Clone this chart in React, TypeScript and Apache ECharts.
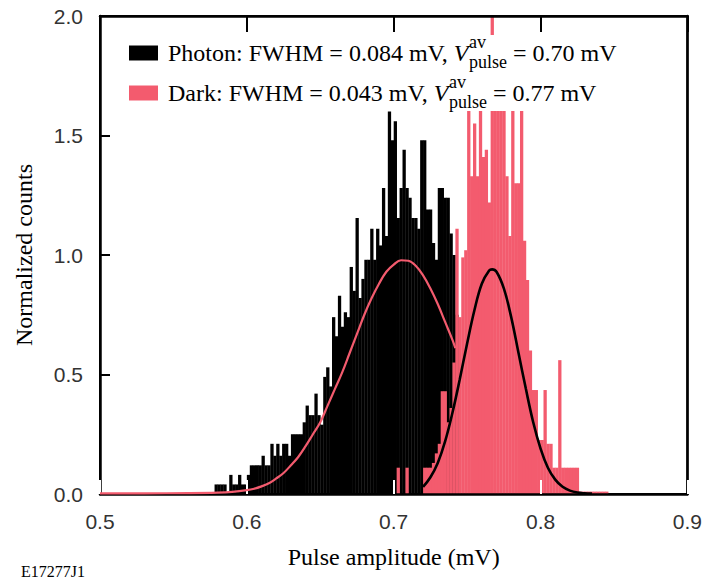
import React, { useEffect, useRef } from "react";
import * as echarts from "echarts";

// ---------- data ----------
const binWidth = 0.002;

const photonBinStart = [
  0.578, 0.58, 0.582, 0.584, 0.586, 0.588, 0.59, 0.592, 0.594, 0.596, 0.598,
  0.6, 0.602, 0.604, 0.606, 0.608, 0.61, 0.612, 0.614, 0.616, 0.618, 0.62,
  0.622, 0.624, 0.626, 0.628, 0.63, 0.632, 0.634, 0.636, 0.638, 0.64, 0.642,
  0.644, 0.646, 0.648, 0.65, 0.652, 0.654, 0.656, 0.658, 0.66, 0.662, 0.664,
  0.666, 0.668, 0.67, 0.672, 0.674, 0.676, 0.678, 0.68, 0.682, 0.684, 0.686,
  0.688, 0.69, 0.692, 0.694, 0.696, 0.698, 0.7, 0.702, 0.704, 0.706, 0.708,
  0.71, 0.712, 0.714, 0.716, 0.718, 0.72, 0.722, 0.724, 0.726, 0.728, 0.73,
  0.732, 0.734, 0.736, 0.738, 0.74, 0.742,
];
const photonCounts = [
  0.04, 0.04, 0.04, 0.04, 0.0, 0.08, 0.04, 0.04, 0.08, 0.04, 0.04,
  0.08, 0.12, 0.12, 0.12, 0.12, 0.16, 0.12, 0.12, 0.21, 0.16, 0.21,
  0.16, 0.21, 0.21, 0.16, 0.25, 0.25, 0.25, 0.25, 0.3, 0.37, 0.33,
  0.33, 0.42, 0.33, 0.29, 0.49, 0.53, 0.45, 0.74, 0.66, 0.83, 0.7,
  0.76, 0.74, 0.95, 0.85, 1.155, 0.82, 0.9, 0.98, 0.98, 1.11, 0.98,
  1.11, 1.04, 1.28, 1.08, 1.6, 1.48, 1.56, 1.155, 1.28, 1.44, 1.28,
  1.24, 1.155, 1.155, 1.11, 1.48, 1.48, 1.19, 1.19, 1.05, 0.98, 1.28,
  1.28, 1.24, 1.24, 1.09, 1.0, 0.75,
];

const darkBinStart = [
  0.702, 0.708, 0.72, 0.722, 0.724, 0.726, 0.728, 0.73, 0.732, 0.734, 0.736,
  0.738, 0.74, 0.742, 0.744, 0.746, 0.748, 0.75, 0.752, 0.754, 0.756, 0.758,
  0.76, 0.762, 0.764, 0.766, 0.768, 0.77, 0.772, 0.774, 0.776, 0.778, 0.78,
  0.782, 0.784, 0.786, 0.788, 0.79, 0.792, 0.794, 0.796, 0.798, 0.8, 0.802,
  0.804, 0.806, 0.808, 0.81, 0.812, 0.814, 0.816, 0.818, 0.82, 0.822, 0.824,
  0.826, 0.828, 0.83, 0.832, 0.834, 0.836, 0.838, 0.84, 0.842, 0.844,
];
const darkCounts = [
  0.11, 0.11, 0.11, 0.11, 0.11, 0.13, 0.17, 0.21, 0.43, 0.43, 0.3,
  0.36, 0.55, 1.11, 0.74, 0.99, 1.02, 1.75, 1.33, 1.55, 1.33, 1.7,
  1.41, 1.44, 1.22, 2.2, 1.8, 1.75, 1.7, 1.75, 1.33, 1.08, 1.7,
  1.3, 1.3, 1.7, 1.06, 0.895, 0.6, 0.435, 0.435, 0.226, 0.226, 0.435,
  0.21, 0.21, 0.11, 0.11, 0.56, 0.11, 0.11, 0.11, 0.11, 0.11, 0.11,
  0.01, 0.01, 0.01, 0.01, 0.01, 0.01, 0.01, 0.01, 0.01, 0.01,
];

// Gaussian fit curves
const photonFitX = [
  0.5, 0.53, 0.56, 0.58, 0.59, 0.6, 0.605, 0.61, 0.615, 0.62, 0.625, 0.63,
  0.635, 0.64, 0.645, 0.65, 0.655, 0.66, 0.665, 0.67, 0.675, 0.68, 0.685,
  0.69, 0.695, 0.7, 0.705, 0.71, 0.715, 0.72, 0.725, 0.73, 0.735, 0.74, 0.742,
];
const photonFitY = [
  0.003, 0.003, 0.004, 0.006, 0.009, 0.016, 0.022, 0.032, 0.045, 0.065, 0.088,
  0.12, 0.155, 0.2, 0.25, 0.3, 0.37, 0.44, 0.51, 0.59, 0.67, 0.75, 0.82,
  0.88, 0.93, 0.96, 0.978, 0.976, 0.955, 0.915, 0.86, 0.795, 0.72, 0.645, 0.61,
];

const darkFitX = [
  0.72, 0.725, 0.73, 0.735, 0.74, 0.745, 0.75, 0.755, 0.76, 0.765, 0.767,
  0.77, 0.775, 0.78, 0.785, 0.79, 0.795, 0.8, 0.805, 0.81, 0.815, 0.82,
  0.825, 0.83, 0.835,
];
const darkFitY = [
  0.03, 0.07, 0.13, 0.22, 0.34, 0.48, 0.63, 0.77, 0.88, 0.935, 0.94,
  0.93, 0.86, 0.74, 0.59, 0.44, 0.3, 0.19, 0.11, 0.06, 0.03, 0.014,
  0.006, 0.003, 0.002,
];

const legendRows = [
  { lead: "Photon: FWHM = 0.084 mV, ", tail: " = 0.70 mV", swatch: "#000000" },
  { lead: "Dark: FWHM = 0.043 mV, ", tail: " = 0.77 mV", swatch: "#F35B6E" },
];

const PINK = "#F35B6E";
const FRAME = "#000000";
const SERIF = '"Liberation Serif", "Times New Roman", serif';
const SANS = '"Liberation Sans", Arial, sans-serif';

// ---------- helpers ----------
let measureCtx: CanvasRenderingContext2D | null = null;
function textWidth(text: string, font: string): number {
  if (!measureCtx) {
    const c = document.createElement("canvas");
    measureCtx = c.getContext("2d");
  }
  if (!measureCtx) return text.length * 10;
  measureCtx.font = font;
  return measureCtx.measureText(text).width;
}

function histRender(color: string) {
  return (params: any, api: any) => {
    const x0 = api.value(0);
    const v = api.value(1);
    const a = api.coord([x0, 0]);
    const b = api.coord([x0 + binWidth, v]);
    const cs = params.coordSys;
    const rect = echarts.graphic.clipRectByRect(
      { x: a[0], y: b[1], width: b[0] - a[0] + 0.35, height: a[1] - b[1] },
      { x: cs.x, y: cs.y, width: cs.width, height: cs.height }
    );
    if (!rect) return null;
    return { type: "rect", shape: rect, style: { fill: color } };
  };
}

function buildLegend(): any[] {
  const mainFont = `24px ${SERIF}`;
  const italicFont = `italic 24px ${SERIF}`;
  const subFont = `18px ${SERIF}`;
  const els: any[] = [
    {
      type: "rect",
      shape: { x: 120, y: 35, width: 520, height: 76 },
      style: { fill: "#ffffff" },
      z: 100,
    },
  ];
  const rowY = [53, 93];
  legendRows.forEach((row, i) => {
    const cy = rowY[i];
    const x0 = 168;
    els.push({
      type: "rect",
      shape: { x: 129, y: cy - 7.5, width: 29, height: 15 },
      style: { fill: row.swatch },
      z: 101,
    });
    els.push({
      type: "text",
      x: x0,
      y: cy,
      style: { text: row.lead, font: mainFont, fill: "#000", verticalAlign: "middle", align: "left" },
      z: 101,
    });
    const xV = x0 + textWidth(row.lead, mainFont);
    els.push({
      type: "text",
      x: xV,
      y: cy,
      style: { text: "V", font: italicFont, fill: "#000", verticalAlign: "middle", align: "left" },
      z: 101,
    });
    const xs = xV + textWidth("V", italicFont) + 0.5;
    els.push({
      type: "text",
      x: xs,
      y: cy - 11,
      style: { text: "av", font: subFont, fill: "#000", verticalAlign: "middle", align: "left" },
      z: 101,
    });
    els.push({
      type: "text",
      x: xs,
      y: cy + 9,
      style: { text: "pulse", font: subFont, fill: "#000", verticalAlign: "middle", align: "left" },
      z: 101,
    });
    const xt = xs + Math.max(textWidth("av", subFont), textWidth("pulse", subFont));
    els.push({
      type: "text",
      x: xt,
      y: cy,
      style: { text: row.tail, font: mainFont, fill: "#000", verticalAlign: "middle", align: "left" },
      z: 101,
    });
  });
  els.push({
    type: "text",
    x: 21,
    y: 571,
    style: { text: "E17277J1", font: `16px ${SERIF}`, fill: "#000", verticalAlign: "middle", align: "left" },
    z: 101,
  });
  return els;
}

function line(color: string, width: number) {
  return { show: true, onZero: false, lineStyle: { color, width } };
}

function buildOption(): any {
  return {
    animation: false,
    backgroundColor: "#ffffff",
    grid: {
      left: 100,
      right: 15,
      top: 16,
      bottom: 87,
      show: true,
      borderColor: FRAME,
      borderWidth: 2,
      backgroundColor: "transparent",
    },
    xAxis: [
      {
        type: "value",
        gridIndex: 0,
        min: 0.5,
        max: 0.9,
        interval: 0.1,
        position: "bottom",
        z: 4,
        axisLine: line(FRAME, 2.5),
        axisTick: { show: true, inside: true, length: 14, lineStyle: { color: "#ffffff", width: 2 } },
        axisLabel: {
          show: true,
          margin: 17,
          fontFamily: SANS,
          fontSize: 21,
          color: "#333",
          formatter: (v: number) => v.toFixed(1),
        },
        splitLine: { show: false },
        name: "Pulse amplitude (mV)",
        nameLocation: "middle",
        nameGap: 51,
        nameTextStyle: { fontFamily: SERIF, fontSize: 24, color: "#000" },
      },
      {
        type: "value",
        gridIndex: 0,
        show: true,
        min: 0.5,
        max: 0.9,
        interval: 0.1,
        position: "top",
        offset: 0,
        z: 4,
        axisLine: line(FRAME, 2.5),
        axisTick: { show: true, inside: true, length: 16, lineStyle: { color: FRAME, width: 2 } },
        axisLabel: { show: false },
        splitLine: { show: false },
      },
    ],
    yAxis: [
      {
        type: "value",
        gridIndex: 0,
        min: 0,
        max: 2,
        interval: 0.5,
        position: "left",
        z: 4,
        axisLine: line(FRAME, 2.5),
        axisTick: { show: true, inside: true, length: 10, lineStyle: { color: FRAME, width: 2 } },
        axisLabel: {
          show: true,
          margin: 17,
          fontFamily: SANS,
          fontSize: 21,
          color: "#333",
          formatter: (v: number) => v.toFixed(1),
        },
        splitLine: { show: false },
        name: "Normalized counts",
        nameLocation: "middle",
        nameGap: 64,
        nameRotate: 90,
        nameTextStyle: { fontFamily: SERIF, fontSize: 24, color: "#000" },
      },
      {
        type: "value",
        gridIndex: 0,
        show: true,
        min: 0,
        max: 2,
        interval: 0.5,
        position: "right",
        z: 4,
        axisLine: line(FRAME, 2.5),
        axisTick: { show: false },
        axisLabel: { show: false },
        splitLine: { show: false },
      },
    ],
    series: [
      {
        name: "Photon",
        type: "custom",
        renderItem: histRender("#000000"),
        encode: { x: 0, y: 1 },
        data: photonBinStart.map((x, i) => [x, photonCounts[i]]),
        z: 2,
      },
      {
        name: "Dark",
        type: "custom",
        renderItem: histRender(PINK),
        encode: { x: 0, y: 1 },
        data: darkBinStart.map((x, i) => [x, darkCounts[i]]),
        z: 3,
      },
      {
        name: "Photon fit",
        type: "line",
        data: photonFitX.map((x, i) => [x, photonFitY[i]]),
        smooth: 0.4,
        showSymbol: false,
        lineStyle: { color: PINK, width: 2.2 },
        z: 6,
      },
      {
        name: "Dark fit",
        type: "line",
        xAxisIndex: 1,
        yAxisIndex: 1,
        data: darkFitX.map((x, i) => [x, darkFitY[i]]),
        smooth: 0.4,
        showSymbol: false,
        lineStyle: { color: "#000000", width: 2.6 },
        z: 6,
      },
    ],
    graphic: buildLegend(),
  };
}

export default function App() {
  const ref = useRef<HTMLDivElement>(null);
  useEffect(() => {
    if (!ref.current) return;
    const chart = echarts.init(ref.current, null, { renderer: "svg" });
    chart.setOption(buildOption());
    return () => chart.dispose();
  }, []);
  return (
    <div
      ref={ref}
      style={{ position: "fixed", left: 0, top: 0, width: 705, height: 581, background: "#fff" }}
    />
  );
}
